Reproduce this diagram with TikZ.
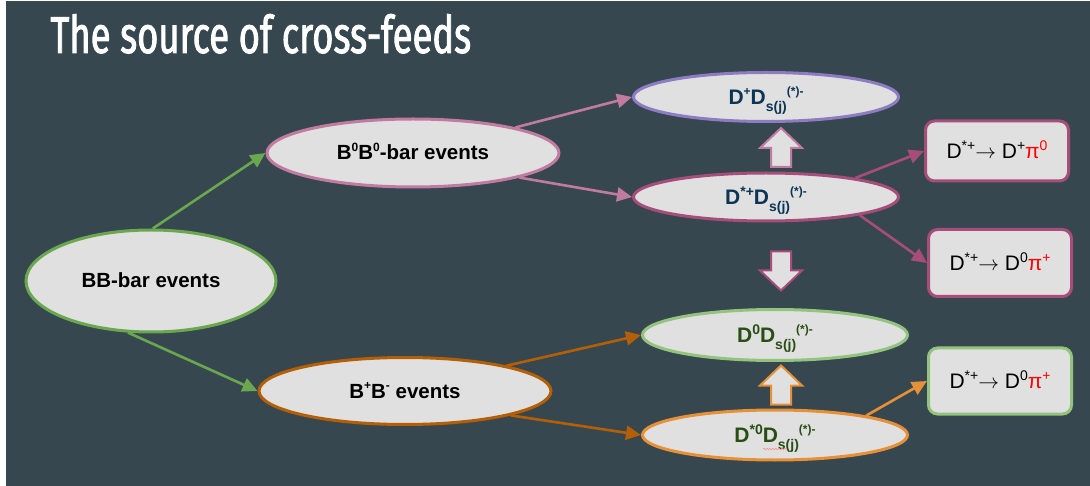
\documentclass[tikz,border=0pt]{standalone}
\usepackage{fontspec}
\setmainfont{Liberation Sans}
\newfontfamily\titlefont[FakeStretch=0.7,FakeBold=1.6]{Fira Sans}
\usetikzlibrary{shapes.geometric,arrows.meta,decorations.pathmorphing}

\definecolor{bgslate}{HTML}{37474F}
\definecolor{nodefill}{HTML}{E0E0E0}
\definecolor{bbgreen}{HTML}{6AA84F}
\definecolor{lightgreen}{HTML}{93C47D}
\definecolor{pinkline}{HTML}{C27BA0}
\definecolor{magline}{HTML}{A64D79}
\definecolor{purpline}{HTML}{8E7CC3}
\definecolor{brownline}{HTML}{B45F06}
\definecolor{orangeline}{HTML}{E69138}
\definecolor{navytext}{HTML}{0B3455}
\definecolor{greentext}{HTML}{274E13}
\definecolor{pired}{HTML}{FF0000}

\newcommand{\supx}[1]{\raisebox{0.43em}{\fontsize{12}{12}\selectfont #1}}
\newcommand{\supb}[1]{\raisebox{0.36em}{\fontsize{14}{14}\selectfont #1}}
\newcommand{\subx}[1]{\raisebox{-0.33em}{\fontsize{14}{14}\selectfont #1}}
\newcommand{\Dsj}{D\subx{s(j)}\supx{(*)-}}

\begin{document}
\begin{tikzpicture}[x=1pt,y=-1pt,
  evt/.style={ellipse,draw=#1,line width=3pt,fill=nodefill,inner sep=0pt,
    text height=14pt,text depth=0pt,font=\fontsize{20.5}{24}\selectfont\bfseries},
  dnode/.style={ellipse,draw=#1,line width=3pt,fill=nodefill,inner sep=0pt,
    minimum width=265,text height=15pt,text depth=0pt,
    font=\fontsize{21}{24}\selectfont\bfseries},
  decay/.style={draw=#1,line width=3pt,fill=nodefill,rounded corners=9pt,
    minimum width=143,text height=15pt,text depth=0pt,
    font=\fontsize{21}{24}\selectfont},
  feed/.style={draw=#1,line width=2.6pt,-{Triangle[length=15pt,width=14pt]}},
  pics/fatarrow/.style={code={
    \draw[#1,line width=2pt,fill=nodefill,line join=miter]
      (-10,19.5) -- (-10,0.5) -- (-21,0.5) -- (0,-19.5) -- (21,0.5)
      -- (10,0.5) -- (10,19.5) -- cycle;}}]
  \useasboundingbox (0,0) rectangle (1090,486);
  \fill[bgslate] (6,1) rectangle (1090,486);

  \node[anchor=base west,text=white,font=\titlefont\fontsize{52}{60}\selectfont]
    (title) at (47,53) {The source of cross-feeds};

  % events
  \node[evt=bbgreen,minimum width=250,minimum height=102] (bb) at (151,281) {BB-bar events};
  \node[evt=pinkline,minimum width=292,minimum height=68] (bz) at (413,153) {B\supx{0}B\supx{0}-bar events};
  \node[evt=brownline,minimum width=292,minimum height=67] (bc) at (405,391) {B\supx{+}B\supx{-} events};

  % final states
  \node[dnode=purpline,minimum height=49,text=navytext] (dp) at (766,97) {D\supx{+}\Dsj};
  \node[dnode=magline,minimum height=48,text=navytext] (dsp) at (766,197) {D\supb{*+}\Dsj};
  \node[dnode=lightgreen,minimum height=51,text=greentext] (dz) at (775,335) {D\supb{0}\Dsj};
  \node[dnode=orangeline,minimum height=50,text=greentext] (dsz) at (775,435) {D\supb{*0}\Dsj};

  \node[decay=magline,minimum height=60] (dk1) at (997,151) {D\supb{*+}$\rightarrow$ D\supb{+}\textcolor{pired}{π\supb{0}}};
  \node[decay=magline,minimum height=67] (dk2) at (1000,263) {D\supb{*+}$\rightarrow$ D\supb{0}\textcolor{pired}{π\supb{+}}};
  \node[decay=lightgreen,minimum height=66] (dk3) at (1000,381) {D\supb{*+}$\rightarrow$ D\supb{0}\textcolor{pired}{π\supb{+}}};

  % feed-down arrows
  \pic at (781,147.5) {fatarrow=pinkline};
  \pic[rotate=180] at (781,271) {fatarrow=magline};
  \pic at (781,385) {fatarrow=orangeline};

  \draw[feed=bbgreen] (bb.88) -- (bz.west);
  \draw[feed=bbgreen] (bb.246) -- (bc.west);
  \draw[feed=pinkline] (bz.14) -- (dp.west);
  \draw[feed=pinkline] (bz.-13) -- (dsp.west);
  \draw[feed=brownline] (bc.14) -- (dz.west);
  \draw[feed=brownline] (bc.-13) -- (dsz.west);
  \draw[feed=magline] (dsp.12) -- (dk1.west);
  \draw[feed=magline] (dsp.-11) -- (dk2.west);
  \draw[feed=orangeline] (dsz.12) -- (dk3.west);

  \draw[red!45,line width=0.6pt,decorate,decoration={snake,amplitude=0.8pt,segment length=3pt}]
    (763,449) -- (787,449);
\end{tikzpicture}
\end{document}
